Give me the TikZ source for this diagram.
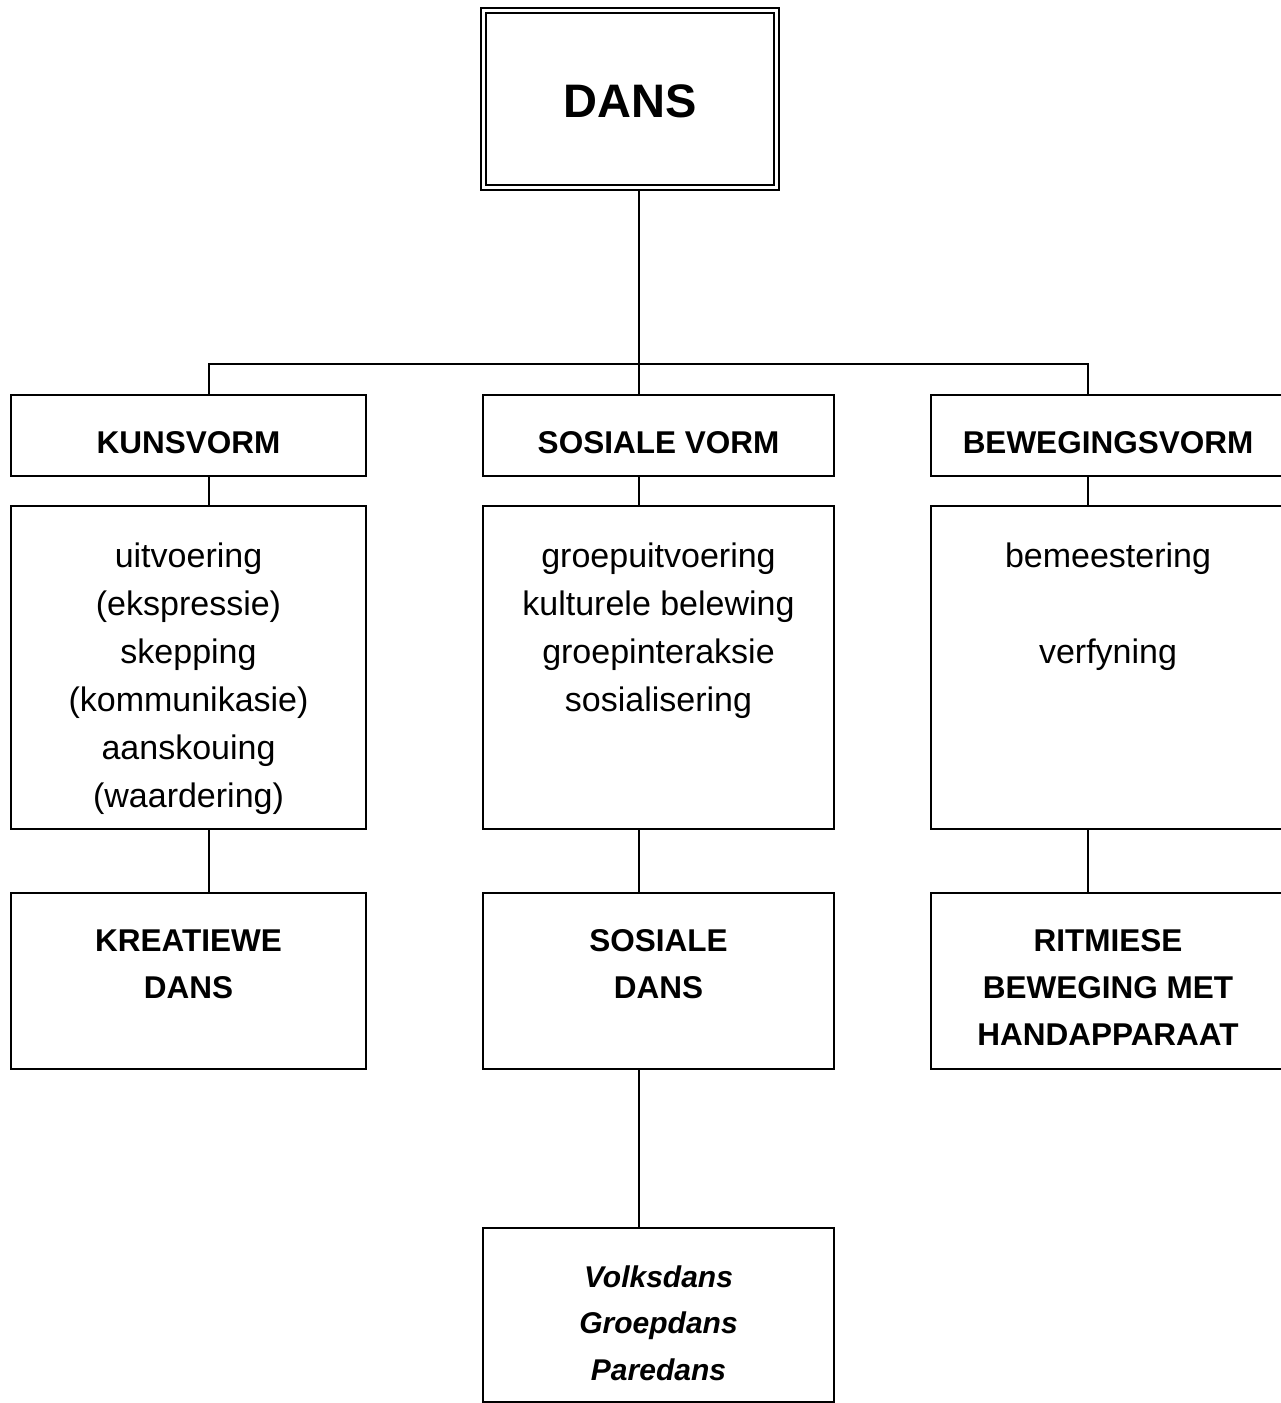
\documentclass[tikz,border=0pt]{standalone}
\usepackage{fontspec}
\setmainfont{Liberation Sans}
\begin{document}
\begin{tikzpicture}[x=1pt,y=-1pt,line width=2.6pt,
  box/.style={draw,rectangle,inner sep=0pt,fill=white},
  hdr/.style={font=\fontsize{31.5}{40}\selectfont\bfseries,anchor=base,inner sep=0pt},
  body/.style={font=\fontsize{34}{48}\selectfont,anchor=base,inner sep=0pt},
  ital/.style={font=\fontsize{30}{40}\selectfont\bfseries\itshape,anchor=base,inner sep=0pt},
  conn/.style={draw,line width=2.6pt}]
\useasboundingbox (0,0) rectangle (1281,1403);
\fill[white] (0,0) rectangle (1281,1403);
\clip (0,0) rectangle (1281,1403);
% top box
\node[box,line width=2.2pt,minimum width=298pt,minimum height=182pt] (dans) at (630,99) {};
\node[box,line width=2.2pt,minimum width=288pt,minimum height=172pt] (dansin) at (630,99) {};
\node[font=\fontsize{47}{50}\selectfont\bfseries,anchor=base,inner sep=0pt] (danst) at (630,117) {DANS};
% headers
\node[box,minimum width=355pt,minimum height=81pt] (h1) at (188.5,435.5) {};
\node[box,minimum width=351pt,minimum height=81pt] (h2) at (658.5,435.5) {};
\node[box,minimum width=354pt,minimum height=81pt] (h3) at (1108,435.5) {};
\node[hdr] (h1t) at (188.5,453) {KUNSVORM};
\node[hdr] (h2t) at (658.5,453) {SOSIALE VORM};
\node[hdr] (h3t) at (1108,453) {BEWEGINGSVORM};
% content boxes
\node[box,minimum width=355pt,minimum height=323pt] (c1) at (188.5,667.5) {};
\node[box,minimum width=351pt,minimum height=323pt] (c2) at (658.5,667.5) {};
\node[box,minimum width=354pt,minimum height=323pt] (c3) at (1108,667.5) {};
\node[body] (c1a) at (188.5,567) {uitvoering};
\node[body] (c1b) at (188.5,615) {(ekspressie)};
\node[body] (c1c) at (188.5,663) {skepping};
\node[body] (c1d) at (188.5,711) {(kommunikasie)};
\node[body] (c1e) at (188.5,759) {aanskouing};
\node[body] (c1f) at (188.5,807) {(waardering)};
\node[body] (c2a) at (658.5,567) {groepuitvoering};
\node[body] (c2b) at (658.5,615) {kulturele belewing};
\node[body] (c2c) at (658.5,663) {groepinteraksie};
\node[body] (c2d) at (658.5,711) {sosialisering};
\node[body] (c3a) at (1108,567) {bemeestering};
\node[body] (c3b) at (1108,663) {verfyning};
% bottom boxes
\node[box,minimum width=355pt,minimum height=176pt] (d1) at (188.5,981) {};
\node[box,minimum width=351pt,minimum height=176pt] (d2) at (658.5,981) {};
\node[box,minimum width=354pt,minimum height=176pt] (d3) at (1108,981) {};
\node[hdr] (d1a) at (188.5,951) {KREATIEWE};
\node[hdr] (d1b) at (188.5,998) {DANS};
\node[hdr] (d2a) at (658.5,951) {SOSIALE};
\node[hdr] (d2b) at (658.5,998) {DANS};
\node[hdr] (d3a) at (1108,951) {RITMIESE};
\node[hdr] (d3b) at (1108,998) {BEWEGING MET};
\node[hdr] (d3c) at (1108,1045) {HANDAPPARAAT};
% last box
\node[box,minimum width=351pt,minimum height=174pt] (e2) at (658.5,1315) {};
\node[ital] (e2a) at (658.5,1287) {Volksdans};
\node[ital] (e2b) at (658.5,1333) {Groepdans};
\node[ital] (e2c) at (658.5,1380) {Paredans};
% connectors
\coordinate (bar) at (639,364);
\coordinate (xL) at (209,364);
\coordinate (xR) at (1088,364);
\draw[conn] (dans.south -| bar) -- (bar);
\draw[conn] (h1.north -| xL) -- (xL) -- (xR) -- (h3.north -| xR);
\draw[conn] (bar) -- (h2.north -| bar);
\draw[conn] (h1.south -| xL) -- (c1.north -| xL);
\draw[conn] (h2.south -| bar) -- (c2.north -| bar);
\draw[conn] (h3.south -| xR) -- (c3.north -| xR);
\draw[conn] (c1.south -| xL) -- (d1.north -| xL);
\draw[conn] (c2.south -| bar) -- (d2.north -| bar);
\draw[conn] (c3.south -| xR) -- (d3.north -| xR);
\draw[conn] (d2.south -| bar) -- (e2.north -| bar);
\end{tikzpicture}
\end{document}
